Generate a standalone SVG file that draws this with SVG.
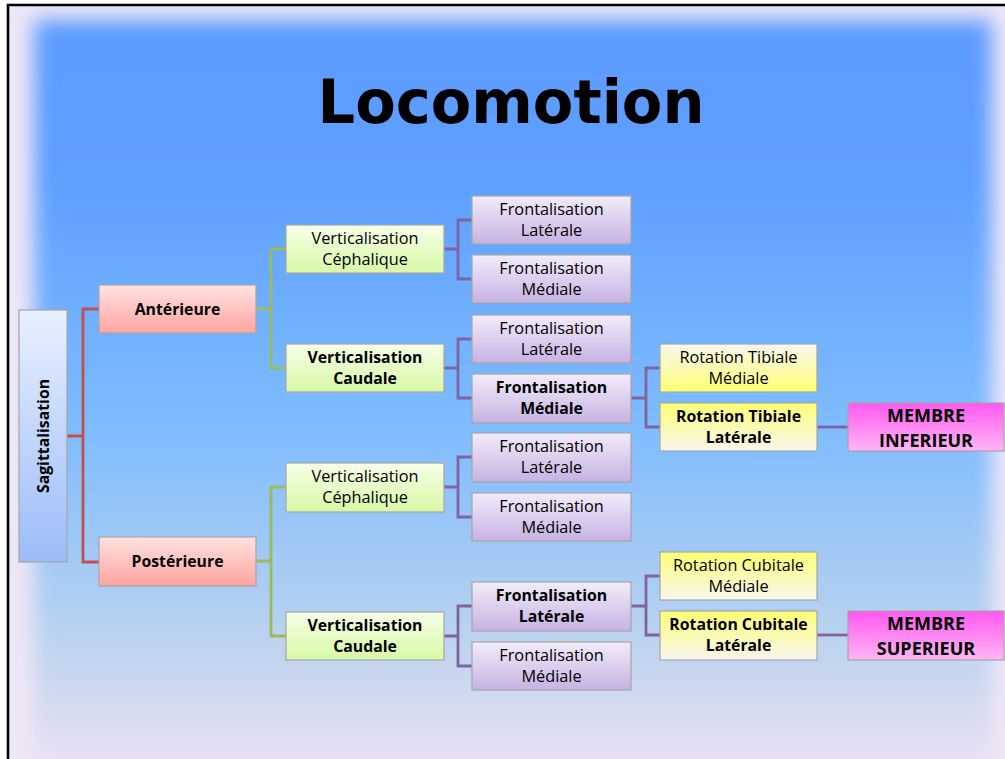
<svg xmlns="http://www.w3.org/2000/svg" width="1005" height="759" viewBox="0 0 1005 759">
<defs>
<linearGradient id="bg" x1="0" y1="0" x2="0" y2="1">
<stop offset="0" stop-color="#5B9BFF"/>
<stop offset="0.2" stop-color="#5E9FFF"/>
<stop offset="0.5" stop-color="#7DBBFF"/>
<stop offset="0.7" stop-color="#A8CCF2"/>
<stop offset="0.82" stop-color="#C8D7EE"/>
<stop offset="0.92" stop-color="#E6E0F4"/>
<stop offset="1" stop-color="#FBE8F8"/>
</linearGradient>
<filter id="soft" x="-10%" y="-10%" width="120%" height="120%">
<feGaussianBlur stdDeviation="10"/>
</filter>
<linearGradient id="gBlue" x1="0" y1="0" x2="0" y2="1"><stop offset="0" stop-color="#E8F0FF"/><stop offset="1" stop-color="#9CBCF6"/></linearGradient>
<linearGradient id="gPink" x1="0" y1="0" x2="0" y2="1"><stop offset="0" stop-color="#FFE2E0"/><stop offset="1" stop-color="#FFA4A0"/></linearGradient>
<linearGradient id="gGreen" x1="0" y1="0" x2="0" y2="1"><stop offset="0" stop-color="#F6FFE8"/><stop offset="1" stop-color="#D8F8A6"/></linearGradient>
<linearGradient id="gPurple" x1="0" y1="0" x2="0" y2="1"><stop offset="0" stop-color="#F2ECFA"/><stop offset="1" stop-color="#C6B2E2"/></linearGradient>
<linearGradient id="gYellow" x1="0" y1="0" x2="0" y2="1"><stop offset="0" stop-color="#FFFF74"/><stop offset="1" stop-color="#F6F6EE"/></linearGradient>
<linearGradient id="gYellowR" x1="0" y1="0" x2="0" y2="1"><stop offset="0" stop-color="#F6F6EE"/><stop offset="1" stop-color="#FFFF74"/></linearGradient>
<linearGradient id="gMag" x1="0" y1="0" x2="0" y2="1"><stop offset="0" stop-color="#FF58F0"/><stop offset="1" stop-color="#FFB6F6"/></linearGradient>
</defs>
<style>
.box{stroke:#A6A6A6;stroke-width:1.2}
.t{font-family:"Open Sans","Liberation Sans",sans-serif;font-size:16.3px;fill:#000;text-anchor:middle}
.b{font-weight:bold;font-size:15.8px}
.big{font-size:18px;font-weight:bold}
.red{fill:none;stroke:#C0504D;stroke-width:2.8}
.grn{fill:none;stroke:#9BBB59;stroke-width:2.8}
.pur{fill:none;stroke:#8064A2;stroke-width:2.8}
</style>
<rect x="0" y="0" width="1005" height="759" fill="#FFFFFF"/>
<rect x="8" y="5" width="1010" height="770" fill="#EFE6F6"/>
<rect x="34" y="20" width="958" height="800" fill="url(#bg)" filter="url(#soft)"/>
<path d="M8,770 L8,5 L1010,5" fill="none" stroke="#000" stroke-width="2.6"/>
<text x="511" y="123" font-family="DejaVu Sans" font-weight="bold" font-size="60" text-anchor="middle" textLength="387" lengthAdjust="spacingAndGlyphs" fill="#000">Locomotion</text>

<g id="connectors">
<path class="red" d="M67,436 H83 M99,309 H83 V562 H99"/>
<path class="grn" d="M256,309 H271 M286,249 H271 V368 H286"/>
<path class="grn" d="M256,561 H271 M286,487 H271 V636 H286"/>
<path class="pur" d="M444,249 H458 M472,220 H458 V279 H472"/>
<path class="pur" d="M444,368 H458 M472,339 H458 V398 H472"/>
<path class="pur" d="M444,487 H458 M472,457 H458 V517 H472"/>
<path class="pur" d="M444,636 H458 M472,606 H458 V666 H472"/>
<path class="pur" d="M631,398 H646 M660,368 H646 V427 H660"/>
<path class="pur" d="M631,606 H646 M660,576 H646 V635 H660"/>
<path class="pur" d="M817,427 H848"/>
<path class="pur" d="M817,635 H848"/>
</g>

<g id="sagittalisation">
<rect class="box" x="19" y="310" width="48" height="252" fill="url(#gBlue)"/>
<text class="t b" transform="translate(49,436) rotate(-90)" x="0" y="0">Sagittalisation</text>
</g>
<g id="anterieure">
<rect class="box" x="99" y="285" width="157" height="48" fill="url(#gPink)"/>
<text class="t b" x="177.5" y="315">Antérieure</text>
</g>
<g id="posterieure">
<rect class="box" x="99" y="537" width="157" height="49" fill="url(#gPink)"/>
<text class="t b" x="177.5" y="567">Postérieure</text>
</g>

<g id="vc1">
<rect class="box" x="286" y="225" width="158" height="48" fill="url(#gGreen)"/>
<text class="t" x="365" y="244">Verticalisation</text>
<text class="t" x="365" y="265">Céphalique</text>
</g>
<g id="vcd1">
<rect class="box" x="286" y="344" width="158" height="48" fill="url(#gGreen)"/>
<text class="t b" x="365" y="363">Verticalisation</text>
<text class="t b" x="365" y="384">Caudale</text>
</g>
<g id="vc2">
<rect class="box" x="286" y="463" width="158" height="49" fill="url(#gGreen)"/>
<text class="t" x="365" y="482">Verticalisation</text>
<text class="t" x="365" y="503">Céphalique</text>
</g>
<g id="vcd2">
<rect class="box" x="286" y="612" width="158" height="48" fill="url(#gGreen)"/>
<text class="t b" x="365" y="631">Verticalisation</text>
<text class="t b" x="365" y="652">Caudale</text>
</g>

<g id="f1">
<rect class="box" x="472" y="196" width="159" height="48" fill="url(#gPurple)"/>
<text class="t" x="551.5" y="215">Frontalisation</text>
<text class="t" x="551.5" y="236">Latérale</text>
</g>
<g id="f2">
<rect class="box" x="472" y="255" width="159" height="48" fill="url(#gPurple)"/>
<text class="t" x="551.5" y="274">Frontalisation</text>
<text class="t" x="551.5" y="295">Médiale</text>
</g>
<g id="f3">
<rect class="box" x="472" y="315" width="159" height="48" fill="url(#gPurple)"/>
<text class="t" x="551.5" y="334">Frontalisation</text>
<text class="t" x="551.5" y="355">Latérale</text>
</g>
<g id="f4">
<rect class="box" x="472" y="374" width="159" height="49" fill="url(#gPurple)"/>
<text class="t b" x="551.5" y="393">Frontalisation</text>
<text class="t b" x="551.5" y="414">Médiale</text>
</g>
<g id="f5">
<rect class="box" x="472" y="433" width="159" height="49" fill="url(#gPurple)"/>
<text class="t" x="551.5" y="452">Frontalisation</text>
<text class="t" x="551.5" y="473">Latérale</text>
</g>
<g id="f6">
<rect class="box" x="472" y="493" width="159" height="48" fill="url(#gPurple)"/>
<text class="t" x="551.5" y="512">Frontalisation</text>
<text class="t" x="551.5" y="533">Médiale</text>
</g>
<g id="f7">
<rect class="box" x="472" y="582" width="159" height="49" fill="url(#gPurple)"/>
<text class="t b" x="551.5" y="601">Frontalisation</text>
<text class="t b" x="551.5" y="622">Latérale</text>
</g>
<g id="f8">
<rect class="box" x="472" y="642" width="159" height="48" fill="url(#gPurple)"/>
<text class="t" x="551.5" y="661">Frontalisation</text>
<text class="t" x="551.5" y="682">Médiale</text>
</g>

<g id="rtm">
<rect class="box" x="660" y="344" width="157" height="48" fill="url(#gYellowR)"/>
<text class="t" x="738.5" y="363">Rotation Tibiale</text>
<text class="t" x="738.5" y="384">Médiale</text>
</g>
<g id="rtl">
<rect class="box" x="660" y="403" width="157" height="48" fill="url(#gYellow)"/>
<text class="t b" x="738.5" y="422">Rotation Tibiale</text>
<text class="t b" x="738.5" y="443">Latérale</text>
</g>
<g id="rcm">
<rect class="box" x="660" y="552" width="157" height="48" fill="url(#gYellow)"/>
<text class="t" x="738.5" y="571">Rotation Cubitale</text>
<text class="t" x="738.5" y="592">Médiale</text>
</g>
<g id="rcl">
<rect class="box" x="660" y="611" width="157" height="49" fill="url(#gYellow)"/>
<text class="t b" x="738.5" y="630">Rotation Cubitale</text>
<text class="t b" x="738.5" y="651">Latérale</text>
</g>

<g id="mi">
<rect class="box" x="848" y="403" width="156" height="48" fill="url(#gMag)"/>
<text class="t big" x="926" y="422">MEMBRE</text>
<text class="t big" x="926" y="447">INFERIEUR</text>
</g>
<g id="ms">
<rect class="box" x="848" y="611" width="156" height="49" fill="url(#gMag)"/>
<text class="t big" x="926" y="630">MEMBRE</text>
<text class="t big" x="926" y="655">SUPERIEUR</text>
</g>
</svg>
